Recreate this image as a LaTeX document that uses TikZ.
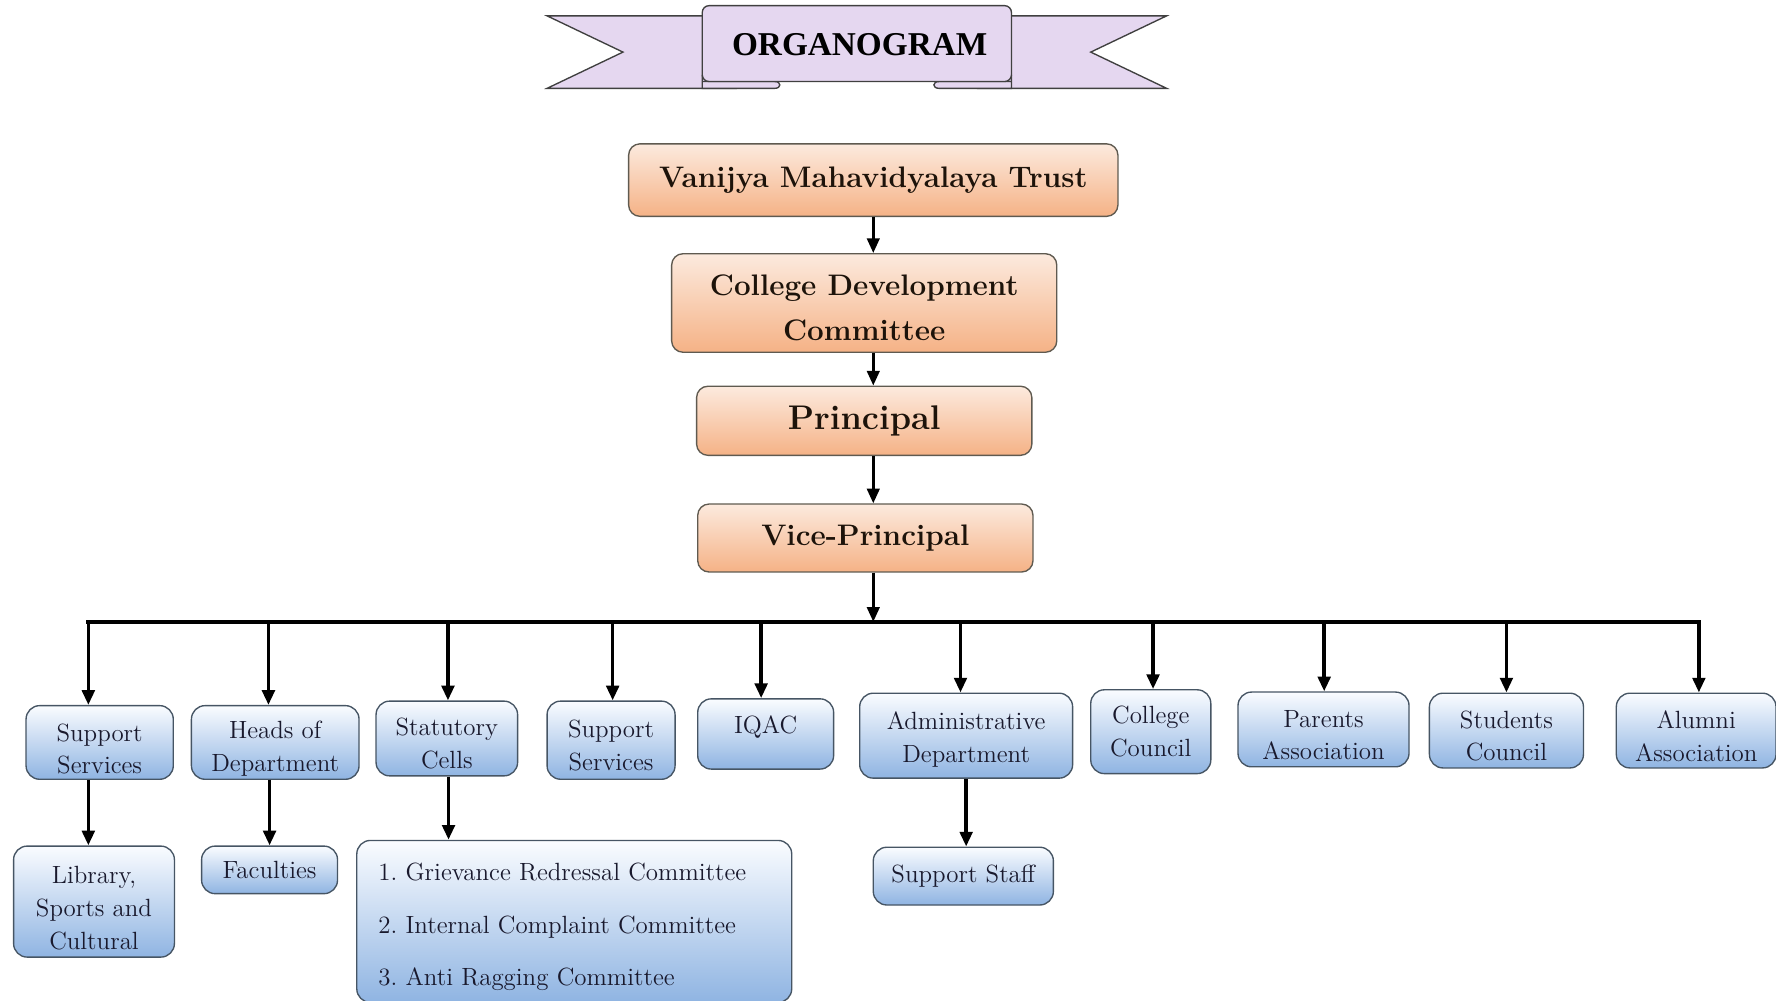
\documentclass[tikz,border=0pt]{standalone}
\usepackage{fontspec}
\newfontfamily\bannerfont{Liberation Serif}
\usetikzlibrary{arrows.meta}
\definecolor{orgtop}{RGB}{252,234,222}
\definecolor{orgbot}{RGB}{245,178,134}
\definecolor{orgline}{RGB}{95,90,80}
\definecolor{blutop}{RGB}{250,252,255}
\definecolor{blubot}{RGB}{143,180,226}
\definecolor{bluline}{RGB}{70,85,100}
\definecolor{lav}{RGB}{229,215,240}
\definecolor{ink}{RGB}{25,25,45}
\newcommand{\sink}[1][12.5pt]{\rule{0pt}{#1}}
\tikzset{
  orgbox/.style={draw=orgline, line width=0.6pt, rounded corners=5pt, top color=orgtop,
    bottom color=orgbot, align=center, inner sep=0pt, text=black!85!brown,
    font=\bfseries\fontsize{13.1}{20}\selectfont},
  blubox/.style={draw=bluline, line width=0.6pt, rounded corners=6pt, top color=blutop,
    bottom color=blubot, align=center, inner sep=0pt, text=ink,
    font=\fontsize{11}{14.5}\selectfont},
  arr/.style={-{Triangle[length=6.5pt,width=5.5pt]}, line width=1.6pt},
}
\begin{document}
\begin{tikzpicture}[x=0.5pt,y=-0.5pt]
  \useasboundingbox (0,0) rectangle (1568,883);
  % banner
  \begin{scope}[draw=black!75, fill=lav, line width=0.6pt]
    \filldraw (483,14) -- (650,14) -- (650,78) -- (483,78) -- (550,46) -- cycle;
    \filldraw (1030,14) -- (863,14) -- (863,78) -- (1030,78) -- (963,46) -- cycle;
    \filldraw (620,66) -- (620,78) -- (684,78) .. controls (690,78) and (690,72) .. (684,72) -- (620,72);
    \filldraw (893,66) -- (893,78) -- (829,78) .. controls (823,78) and (823,72) .. (829,72) -- (893,72);
    \filldraw[rounded corners=3pt] (620,5) rectangle (893,72);
  \end{scope}
  \node (title) at (759,39) {\bannerfont\bfseries\fontsize{14.7}{17}\selectfont ORGANOGRAM};
  % top line
  \node[orgbox, minimum width=216pt, minimum height=32pt] (trust) at (771,159) {Vanijya Mahavidyalaya Trust};
  \node[orgbox, minimum width=170pt, minimum height=43.5pt] (cdc) at (763,267.5) {\sink[13.5pt]College Development\\Committee};
  \node[orgbox, minimum width=148pt, minimum height=30.5pt, font=\bfseries\fontsize{15.1}{18}\selectfont] (prin) at (763,371.5) {Principal};
  \node[orgbox, minimum width=148pt, minimum height=30pt] (vice) at (764,475) {Vice-Principal};
  \coordinate (bus) at (771,549);
  \draw[arr, line width=1.3pt] (trust.south) -- (trust.south |- cdc.north);
  \draw[arr, line width=1.3pt] (bus |- cdc.south) -- (bus |- prin.north);
  \draw[arr, line width=1.3pt] (bus |- prin.south) -- (bus |- vice.north);
  \draw[arr, line width=1.3pt] (bus |- vice.south) -- (bus);
  % first row
  \node[blubox, minimum width=65pt, minimum height=32.5pt] (s1) at (88,655.5) {\sink[13.5pt]Support\\Services};
  \node[blubox, minimum width=74pt, minimum height=32.5pt] (s2) at (243,655.5) {\sink[13.5pt]Heads of\\Department};
  \node[blubox, minimum width=62.5pt, minimum height=33pt] (s3) at (394.5,652) {\sink Statutory\\Cells};
  \node[blubox, minimum width=56.5pt, minimum height=34.5pt] (s4) at (539.5,653.5) {\sink Support\\Services};
  \node[blubox, minimum width=60pt, minimum height=31pt, text depth=8pt] (s5) at (676,648) {IQAC};
  \node[blubox, minimum width=94pt, minimum height=37.5pt] (s6) at (853,649.5) {\sink[11pt]Administrative\\Department};
  \node[blubox, minimum width=53pt, minimum height=37pt] (s7) at (1016,646) {College\\Council};
  \node[blubox, minimum width=75.5pt, minimum height=33pt] (s8) at (1168.5,644) {\sink Parents\\Association};
  \node[blubox, minimum width=68pt, minimum height=33pt] (s9) at (1330,645) {\sink Students\\Council};
  \node[blubox, minimum width=70.5pt, minimum height=33pt] (s10) at (1497.5,645) {\sink Alumni\\Association};
  \foreach \n/\dx in {s1/-5,s2/-3,s3/0.5,s4/0.7,s5/-2,s6/-2.5,s7/1,s8/0.3,s9/0,s10/1.2}
    \path ([xshift=\dx pt]\n.north) coordinate (t\n);
  \draw[line width=1.75pt, line cap=rect] (ts1 |- bus) -- (ts10 |- bus);
  \foreach \n in {s1,s2,s3,s4,s5,s6,s7,s8,s9,s10}
    \draw[arr] (t\n |- bus) -- (t\n);
  % second row
  \node[blubox, minimum width=71pt, minimum height=49pt] (lib) at (83,796) {\sink[13.5pt]Library,\\Sports and\\Cultural};
  \node[blubox, minimum width=60pt, minimum height=21pt] (fac) at (238,768) {Faculties};
  \node[blubox, minimum width=192pt, minimum height=71.5pt, align=left, text width=173pt,
    inner xsep=9.5pt, font=\fontsize{11}{23}\selectfont] (cmt) at (507,813.5)
    {\sink 1.\ Grievance Redressal Committee\\2.\ Internal Complaint Committee\\3.\ Anti Ragging Committee};
  \node[blubox, minimum width=79.5pt, minimum height=25.5pt] (staff) at (850.5,773.5) {Support Staff};
  \draw[arr] ([xshift=-5pt]s1.south) -- ([xshift=-5pt]s1.south |- lib.north);
  \draw[arr] ([xshift=-2.5pt]s2.south) -- ([xshift=-2.5pt]s2.south |- fac.north);
  \draw[arr] ([xshift=0.75pt]s3.south) -- ([xshift=0.75pt]s3.south |- cmt.north);
  \draw[arr] (s6.south) -- (s6.south |- staff.north);
\end{tikzpicture}
\end{document}
